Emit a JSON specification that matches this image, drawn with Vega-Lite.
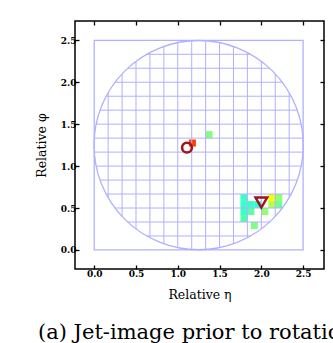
{
  "$schema": "https://vega.github.io/schema/vega-lite/v6.json",
  "width": 249,
  "height": 248,
  "autosize": {"type": "none"},
  "padding": {"left": 75, "top": 21, "right": 9, "bottom": 74},
  "config": {
    "view": {"stroke": "black", "strokeWidth": 1.5},
    "font": "DejaVu Serif"
  },
  "title": {
    "text": "(a) Jet-image prior to rotation",
    "orient": "bottom",
    "anchor": "start",
    "frame": "group",
    "dx": -37,
    "offset": 21,
    "font": "DejaVu Serif",
    "fontSize": 21,
    "fontWeight": "normal",
    "color": "black",
    "limit": 0
  },
  "datasets": {
    "cells": [
      {"eta_lo": 1.133, "eta_hi": 1.217, "phi_lo": 1.233, "phi_hi": 1.317, "v": 0.83},
      {"eta_lo": 1.333, "eta_hi": 1.417, "phi_lo": 1.333, "phi_hi": 1.417, "v": 0.5},
      {"eta_lo": 1.75, "eta_hi": 1.833, "phi_lo": 0.583, "phi_hi": 0.667, "v": 0.42},
      {"eta_lo": 1.75, "eta_hi": 1.833, "phi_lo": 0.5, "phi_hi": 0.583, "v": 0.42},
      {"eta_lo": 1.75, "eta_hi": 1.833, "phi_lo": 0.417, "phi_hi": 0.5, "v": 0.42},
      {"eta_lo": 1.75, "eta_hi": 1.833, "phi_lo": 0.333, "phi_hi": 0.417, "v": 0.45},
      {"eta_lo": 1.833, "eta_hi": 1.917, "phi_lo": 0.5, "phi_hi": 0.583, "v": 0.42},
      {"eta_lo": 1.833, "eta_hi": 1.917, "phi_lo": 0.417, "phi_hi": 0.5, "v": 0.46},
      {"eta_lo": 1.917, "eta_hi": 2.0, "phi_lo": 0.5, "phi_hi": 0.583, "v": 0.4},
      {"eta_lo": 2.0, "eta_hi": 2.083, "phi_lo": 0.417, "phi_hi": 0.5, "v": 0.52},
      {"eta_lo": 1.875, "eta_hi": 1.958, "phi_lo": 0.25, "phi_hi": 0.333, "v": 0.5},
      {"eta_lo": 2.083, "eta_hi": 2.167, "phi_lo": 0.583, "phi_hi": 0.667, "v": 0.63},
      {"eta_lo": 2.167, "eta_hi": 2.25, "phi_lo": 0.583, "phi_hi": 0.667, "v": 0.52},
      {"eta_lo": 2.083, "eta_hi": 2.167, "phi_lo": 0.5, "phi_hi": 0.583, "v": 0.56},
      {"eta_lo": 2.167, "eta_hi": 2.25, "phi_lo": 0.5, "phi_hi": 0.583, "v": 0.48}
    ],
    "square": [{"x1": 0, "x2": 2.5, "y1": 0, "y2": 2.5}],
    "circle": [{"x": 1.25, "y": 1.25}],
    "grid": [
      {"x1": 0.1667, "x2": 0.1667, "y1": 0.6264, "y2": 1.8736},
      {"x1": 0.3333, "x2": 0.3333, "y1": 0.4002, "y2": 2.0998},
      {"x1": 0.5, "x2": 0.5, "y1": 0.25, "y2": 2.25},
      {"x1": 0.6667, "x2": 0.6667, "y1": 0.1445, "y2": 2.3555},
      {"x1": 0.8333, "x2": 0.8333, "y1": 0.0715, "y2": 2.4285},
      {"x1": 1.0, "x2": 1.0, "y1": 0.0253, "y2": 2.4747},
      {"x1": 1.1667, "x2": 1.1667, "y1": 0.0028, "y2": 2.4972},
      {"x1": 1.3333, "x2": 1.3333, "y1": 0.0028, "y2": 2.4972},
      {"x1": 1.5, "x2": 1.5, "y1": 0.0253, "y2": 2.4747},
      {"x1": 1.6667, "x2": 1.6667, "y1": 0.0715, "y2": 2.4285},
      {"x1": 1.8333, "x2": 1.8333, "y1": 0.1445, "y2": 2.3555},
      {"x1": 2.0, "x2": 2.0, "y1": 0.25, "y2": 2.25},
      {"x1": 2.1667, "x2": 2.1667, "y1": 0.4002, "y2": 2.0998},
      {"x1": 2.3333, "x2": 2.3333, "y1": 0.6264, "y2": 1.8736},
      {"y1": 0.1667, "y2": 0.1667, "x1": 0.6264, "x2": 1.8736},
      {"y1": 0.3333, "y2": 0.3333, "x1": 0.4002, "x2": 2.0998},
      {"y1": 0.5, "y2": 0.5, "x1": 0.25, "x2": 2.25},
      {"y1": 0.6667, "y2": 0.6667, "x1": 0.1445, "x2": 2.3555},
      {"y1": 0.8333, "y2": 0.8333, "x1": 0.0715, "x2": 2.4285},
      {"y1": 1.0, "y2": 1.0, "x1": 0.0253, "x2": 2.4747},
      {"y1": 1.1667, "y2": 1.1667, "x1": 0.0028, "x2": 2.4972},
      {"y1": 1.3333, "y2": 1.3333, "x1": 0.0028, "x2": 2.4972},
      {"y1": 1.5, "y2": 1.5, "x1": 0.0253, "x2": 2.4747},
      {"y1": 1.6667, "y2": 1.6667, "x1": 0.0715, "x2": 2.4285},
      {"y1": 1.8333, "y2": 1.8333, "x1": 0.1445, "x2": 2.3555},
      {"y1": 2.0, "y2": 2.0, "x1": 0.25, "x2": 2.25},
      {"y1": 2.1667, "y2": 2.1667, "x1": 0.4002, "x2": 2.0998},
      {"y1": 2.3333, "y2": 2.3333, "x1": 0.6264, "x2": 1.8736}
    ],
    "leading": [{"eta": 1.11, "phi": 1.22}],
    "subleading": [{"eta": 2.0, "phi": 0.565}]
  },
  "layer": [
    {
      "data": {"name": "cells"},
      "mark": {"type": "rect"},
      "encoding": {
        "x": {
          "field": "eta_lo", "type": "quantitative",
          "scale": {"domain": [-0.23, 2.75], "nice": false, "zero": false},
          "axis": {
            "orient": "bottom", "values": [0, 0.5, 1, 1.5, 2, 2.5], "format": ".1f",
            "domain": false, "grid": false, "tickSize": -4, "tickWidth": 1.3, "tickColor": "black",
            "labelFont": "DejaVu Serif", "labelFontWeight": "bold", "labelFontSize": 9, "labelColor": "black",
            "labelPadding": 4,
            "title": "Relative η", "titleFont": "DejaVu Serif", "titleFontSize": 12.5,
            "titleFontWeight": "normal", "titleColor": "black", "titlePadding": 10
          }
        },
        "x2": {"field": "eta_hi"},
        "y": {
          "field": "phi_lo", "type": "quantitative",
          "scale": {"domain": [-0.227, 2.73], "nice": false, "zero": false},
          "axis": {
            "orient": "left", "values": [0, 0.5, 1, 1.5, 2, 2.5], "format": ".1f",
            "domain": false, "grid": false, "tickSize": -4, "tickWidth": 1.3, "tickColor": "black",
            "labelFont": "DejaVu Serif", "labelFontWeight": "bold", "labelFontSize": 9, "labelColor": "black",
            "labelPadding": 3,
            "title": "Relative φ", "titleFont": "DejaVu Serif", "titleFontSize": 12.5,
            "titleFontWeight": "normal", "titleColor": "black", "titlePadding": 12
          }
        },
        "y2": {"field": "phi_hi"},
        "color": {
          "field": "v", "type": "quantitative", "legend": null,
          "scale": {
            "domain": [0, 0.11, 0.36, 0.64, 0.89, 1],
            "range": ["#00007f", "#0000ff", "#00ffff", "#ffff00", "#ff0000", "#7f0000"],
            "interpolate": "rgb"
          }
        }
      }
    },
    {
      "data": {"name": "grid"},
      "mark": {"type": "rule", "color": "#b0b0ff", "strokeWidth": 1},
      "encoding": {
        "x": {"field": "x1", "type": "quantitative", "axis": null, "scale": {"domain": [-0.23, 2.75], "nice": false, "zero": false}},
        "x2": {"field": "x2"},
        "y": {"field": "y1", "type": "quantitative", "axis": null, "scale": {"domain": [-0.227, 2.73], "nice": false, "zero": false}},
        "y2": {"field": "y2"}
      }
    },
    {
      "data": {"name": "square"},
      "mark": {"type": "rect", "fill": null, "stroke": "#b0b0ff", "strokeWidth": 1.3},
      "encoding": {
        "x": {"field": "x1", "type": "quantitative", "axis": null, "scale": {"domain": [-0.23, 2.75], "nice": false, "zero": false}},
        "x2": {"field": "x2"},
        "y": {"field": "y1", "type": "quantitative", "axis": null, "scale": {"domain": [-0.227, 2.73], "nice": false, "zero": false}},
        "y2": {"field": "y2"}
      }
    },
    {
      "data": {"name": "circle"},
      "mark": {"type": "point", "shape": "circle", "filled": false, "size": 43765, "stroke": "#b0b0ff", "strokeWidth": 1.3, "opacity": 1},
      "encoding": {
        "x": {"field": "x", "type": "quantitative", "axis": null, "scale": {"domain": [-0.23, 2.75], "nice": false, "zero": false}},
        "y": {"field": "y", "type": "quantitative", "axis": null, "scale": {"domain": [-0.227, 2.73], "nice": false, "zero": false}}
      }
    },
    {
      "data": {"name": "leading"},
      "mark": {"type": "point", "shape": "circle", "filled": false, "size": 95, "stroke": "#a01515", "strokeWidth": 2.6, "opacity": 1},
      "encoding": {
        "x": {"field": "eta", "type": "quantitative", "axis": null, "scale": {"domain": [-0.23, 2.75], "nice": false, "zero": false}},
        "y": {"field": "phi", "type": "quantitative", "axis": null, "scale": {"domain": [-0.227, 2.73], "nice": false, "zero": false}}
      }
    },
    {
      "data": {"name": "subleading"},
      "mark": {"type": "point", "shape": "triangle-down", "filled": false, "size": 140, "stroke": "#a01515", "strokeWidth": 2.4, "opacity": 1},
      "encoding": {
        "x": {
          "field": "eta", "type": "quantitative",
          "scale": {"domain": [-0.23, 2.75], "nice": false, "zero": false},
          "axis": {"orient": "top", "values": [0, 0.5, 1, 1.5, 2, 2.5], "labels": false, "domain": false, "grid": false,
                   "tickSize": -4, "tickWidth": 1.3, "tickColor": "black", "title": null}
        },
        "y": {
          "field": "phi", "type": "quantitative",
          "scale": {"domain": [-0.227, 2.73], "nice": false, "zero": false},
          "axis": {"orient": "right", "values": [0, 0.5, 1, 1.5, 2, 2.5], "labels": false, "domain": false, "grid": false,
                   "tickSize": -4, "tickWidth": 1.3, "tickColor": "black", "title": null}
        }
      }
    }
  ],
  "resolve": {"axis": {"x": "independent", "y": "independent"}}
}
